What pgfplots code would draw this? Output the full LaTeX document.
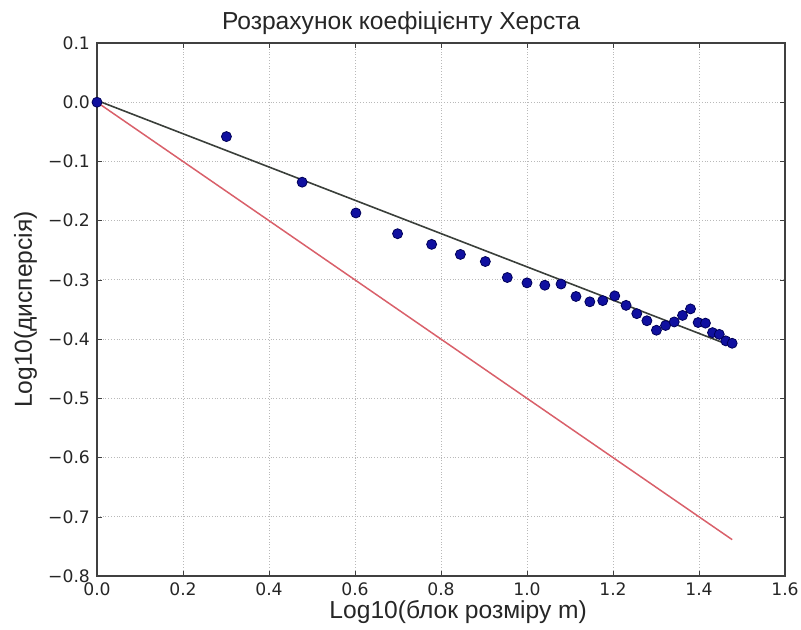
\documentclass[border=0pt]{standalone}
\usepackage{fontspec}
\setmainfont{Liberation Sans}
\newfontfamily\tickfont{DejaVu Sans}
\usepackage{pgfplots}
\pgfplotsset{compat=1.18}
\definecolor{dotblue}{HTML}{1010A0}
\definecolor{dotedge}{HTML}{000058}
\definecolor{hurstred}{HTML}{D9606A}
\definecolor{fitgray}{HTML}{3A3F3A}

\begin{document}
\begin{tikzpicture}
\useasboundingbox (-48.5pt,-27pt) rectangle (352pt,288pt);
\begin{axis}[
    scale only axis,
    width=344pt,
    height=266.5pt,
    xmin=0, xmax=1.6,
    ymin=-0.8, ymax=0.1,
    xtick={0,0.2,0.4,0.6,0.8,1.0,1.2,1.4,1.6},
    xticklabels={0.0,0.2,0.4,0.6,0.8,1.0,1.2,1.4,1.6},
    ytick={-0.8,-0.7,-0.6,-0.5,-0.4,-0.3,-0.2,-0.1,0,0.1},
    yticklabels={−0.8,−0.7,−0.6,−0.5,−0.4,−0.3,−0.2,−0.1,0.0,0.1},
    tick align=inside,
    major tick length=2.5pt,
    grid=major,
    major grid style={densely dotted, gray!55, line width=0.4pt},
    axis line style={black!75, line width=0.8pt},
    tick style={black!75},
    ticklabel style={font=\tickfont\fontsize{8.6}{10}\selectfont, text=black!85},
    title={Розрахунок коефіцієнту Херста},
    title style={at={(0.442,1)}, anchor=base, yshift=0.9pt,
        font=\fontsize{12.3}{14}\selectfont, text=black!85},
    xlabel={Log10(блок розміру m)},
    xlabel style={at={(0.525,0)}, anchor=base, yshift=-21pt,
        font=\fontsize{12.3}{14}\selectfont, text=black!85},
    clip=false,
]
% reference slope 0.5
\addplot[hurstred, line width=0.75pt] coordinates {(0,0) (1.4771,-0.7386)};
% fitted line
\addplot[fitgray, line width=0.8pt] coordinates {(0,0.003) (1.4771,-0.412)};
% measured points
\addplot[only marks, mark=*, mark size=2.5pt,
    mark options={fill=dotblue, draw=dotedge, line width=0.4pt}] coordinates {
(0.0000, 0.000)
(0.3010,-0.058)
(0.4771,-0.135)
(0.6021,-0.187)
(0.6990,-0.222)
(0.7782,-0.240)
(0.8451,-0.257)
(0.9031,-0.269)
(0.9542,-0.296)
(1.0000,-0.305)
(1.0414,-0.309)
(1.0792,-0.307)
(1.1139,-0.328)
(1.1461,-0.337)
(1.1761,-0.335)
(1.2041,-0.327)
(1.2304,-0.343)
(1.2553,-0.357)
(1.2788,-0.369)
(1.3010,-0.385)
(1.3222,-0.377)
(1.3424,-0.371)
(1.3617,-0.360)
(1.3802,-0.349)
(1.3979,-0.372)
(1.4150,-0.373)
(1.4314,-0.389)
(1.4472,-0.392)
(1.4624,-0.403)
(1.4771,-0.407)
};
\node[rotate=90, anchor=base, font=\fontsize{12.3}{14}\selectfont, text=black!85]
    at ([xshift=-32.5pt]rel axis cs:0,0.5) {Log10(дисперсія)};
\end{axis}
\end{tikzpicture}
\end{document}
